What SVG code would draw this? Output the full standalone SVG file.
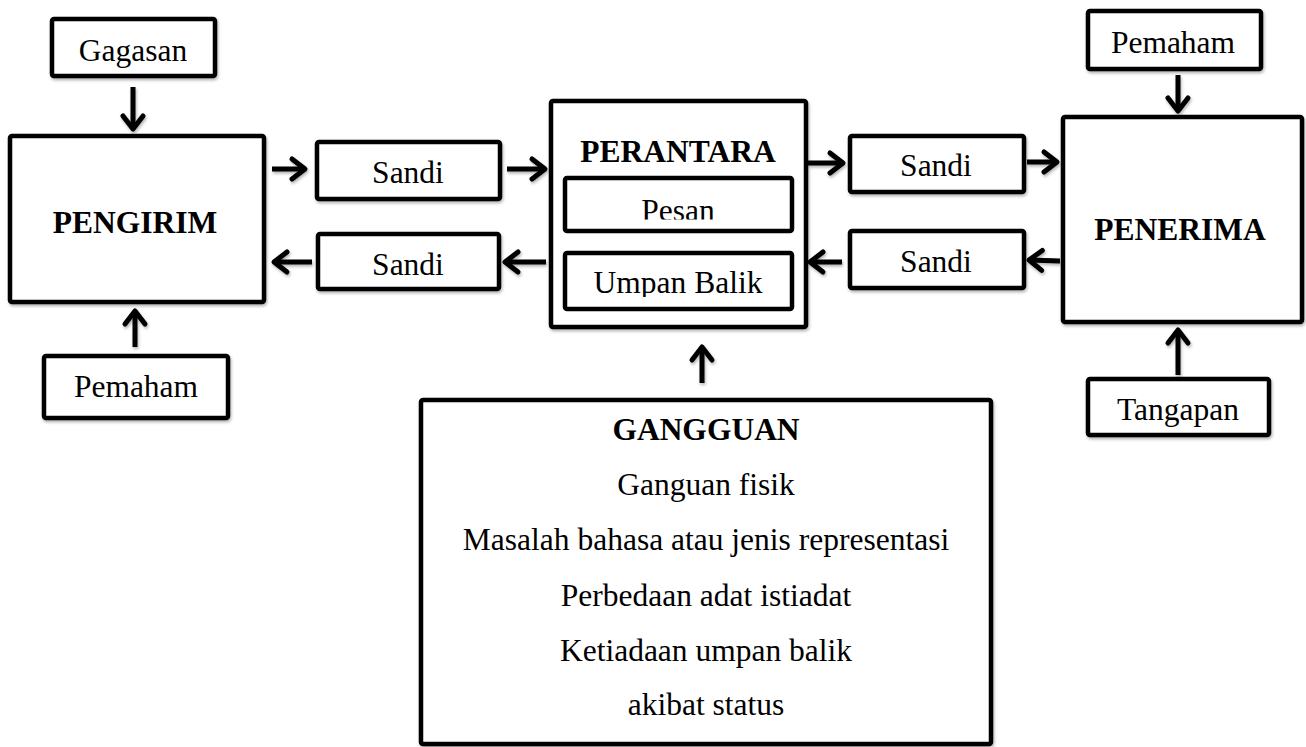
<svg xmlns="http://www.w3.org/2000/svg" width="1306" height="747" viewBox="0 0 1306 747">
  <style>
    .box { fill: #ffffff; stroke: #000000; stroke-width: 4.5; }
    .t { font-family: "Liberation Serif", "Times New Roman", serif; font-size: 31.5px; fill: #000000; text-anchor: middle; }
    .b { font-weight: bold; }
    .conn { stroke: #000000; stroke-width: 5; fill: none; marker-end: url(#arrow); }
    .sh { filter: url(#shadow); }
  </style>
  <defs>
    <filter id="shadow" x="-20%" y="-20%" width="140%" height="140%">
      <feDropShadow dx="1" dy="2" stdDeviation="1.5" flood-color="#000000" flood-opacity="0.3"/>
    </filter>
    <marker id="arrow" markerUnits="userSpaceOnUse" markerWidth="40" markerHeight="40" viewBox="-20 -20 40 40" refX="0" refY="0" orient="auto" overflow="visible">
      <path d="M -13 -10 L 0 0 L -13 10" fill="none" stroke="#000000" stroke-width="5" stroke-linecap="round" stroke-linejoin="round"/>
    </marker>
    <clipPath id="clipPesan"><rect x="560" y="170" width="240" height="49.5"/></clipPath>
    <clipPath id="clipUmpan"><rect x="560" y="250" width="240" height="47"/></clipPath>
  </defs>

  <g id="connectors" class="sh">
    <path class="conn" d="M 133 87 L 133 129"/>
    <path class="conn" d="M 135 347 L 135 311"/>
    <path class="conn" d="M 272 169 L 305 169"/>
    <path class="conn" d="M 507 169 L 545 169"/>
    <path class="conn" d="M 312 262 L 274 262"/>
    <path class="conn" d="M 546 262 L 505 262"/>
    <path class="conn" d="M 808 163 L 843 163"/>
    <path class="conn" d="M 1027 162 L 1057 162"/>
    <path class="conn" d="M 1060 261 L 1029 260"/>
    <path class="conn" d="M 842 262 L 810 262"/>
    <path class="conn" d="M 1178 75 L 1178 111"/>
    <path class="conn" d="M 1178 375 L 1178 330"/>
    <path class="conn" d="M 702 383 L 702 347"/>
  </g>

  <g id="gagasan">
    <rect class="box sh" x="52" y="19" width="163" height="57" rx="2"/>
    <text class="t" x="133" y="61">Gagasan</text>
  </g>

  <g id="pengirim">
    <rect class="box sh" x="10" y="136" width="254" height="166" rx="2"/>
    <text class="t b" x="135" y="233">PENGIRIM</text>
  </g>

  <g id="pemaham-kiri">
    <rect class="box sh" x="44" y="356" width="184" height="62" rx="2"/>
    <text class="t" x="136" y="397">Pemaham</text>
  </g>

  <g id="sandi-kiri-atas">
    <rect class="box sh" x="317" y="142" width="183" height="57" rx="2"/>
    <text class="t" x="408" y="183">Sandi</text>
  </g>

  <g id="sandi-kiri-bawah">
    <rect class="box sh" x="318" y="234" width="181" height="55" rx="2"/>
    <text class="t" x="408" y="275">Sandi</text>
  </g>

  <g id="perantara">
    <rect class="box sh" x="551" y="101" width="255" height="226" rx="2"/>
    <text class="t b" x="678" y="162">PERANTARA</text>
  </g>

  <g id="pesan">
    <rect class="box" x="565" y="178" width="227" height="53" rx="2"/>
    <text class="t" x="678" y="221" clip-path="url(#clipPesan)">Pesan</text>
  </g>

  <g id="umpan-balik">
    <rect class="box" x="565" y="253" width="227" height="56" rx="2"/>
    <text class="t" x="678" y="292.5" clip-path="url(#clipUmpan)">Umpan Balik</text>
  </g>

  <g id="sandi-kanan-atas">
    <rect class="box sh" x="850" y="136" width="174" height="56" rx="2"/>
    <text class="t" x="936" y="176">Sandi</text>
  </g>

  <g id="sandi-kanan-bawah">
    <rect class="box sh" x="850" y="231" width="174" height="57" rx="2"/>
    <text class="t" x="936" y="272">Sandi</text>
  </g>

  <g id="pemaham-kanan">
    <rect class="box sh" x="1088" y="11" width="173" height="58" rx="2"/>
    <text class="t" x="1173" y="53">Pemaham</text>
  </g>

  <g id="penerima">
    <rect class="box sh" x="1063" y="117" width="239" height="205" rx="2"/>
    <text class="t b" x="1180" y="240">PENERIMA</text>
  </g>

  <g id="tangapan">
    <rect class="box sh" x="1088" y="379" width="181" height="56" rx="2"/>
    <text class="t" x="1178" y="420">Tangapan</text>
  </g>

  <g id="gangguan">
    <rect class="box sh" x="421" y="400" width="570" height="344" rx="2"/>
    <text class="t b" x="706" y="440">GANGGUAN</text>
    <text class="t" x="706" y="495">Ganguan fisik</text>
    <text class="t" x="706" y="550">Masalah bahasa atau jenis representasi</text>
    <text class="t" x="706" y="606">Perbedaan adat istiadat</text>
    <text class="t" x="706" y="661">Ketiadaan umpan balik</text>
    <text class="t" x="706" y="715">akibat status</text>
  </g>
</svg>
